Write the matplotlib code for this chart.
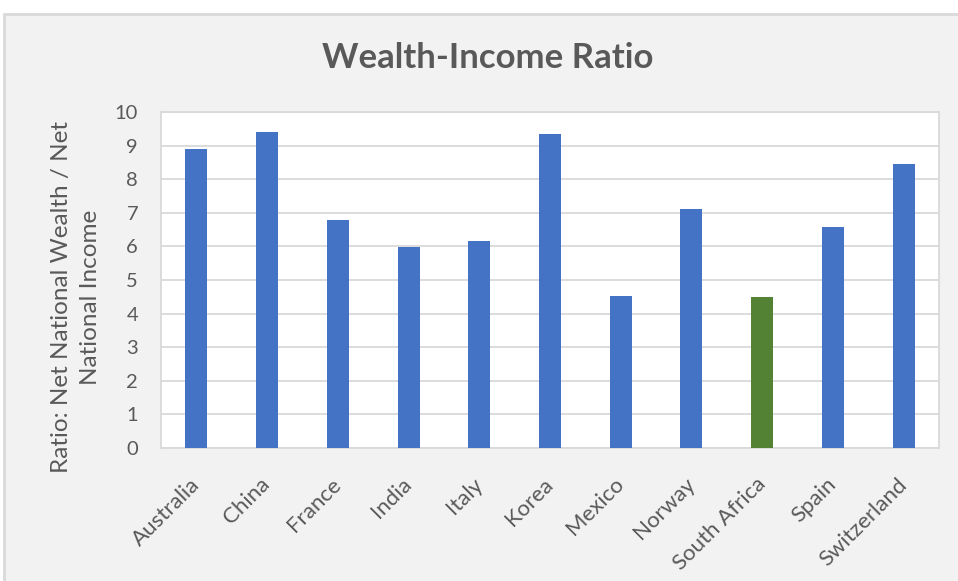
import matplotlib
matplotlib.use("Agg")
import matplotlib.pyplot as plt
from matplotlib.patches import Rectangle
from matplotlib.transforms import ScaledTranslation

# data
countries = ['Australia', 'China', 'France', 'India', 'Italy', 'Korea',
             'Mexico', 'Norway', 'South Africa', 'Spain', 'Switzerland']
ratios = [8.91, 9.41, 6.78, 5.99, 6.15, 9.34, 4.53, 7.10, 4.48, 6.59, 8.44]
highlight = 'South Africa'
y_ticks = [0, 1, 2, 3, 4, 5, 6, 7, 8, 9, 10]

BLUE = '#4472C4'
GREEN = '#548235'
TEXT = '#595959'
GRID = '#D9D9D9'

plt.rcParams['font.family'] = ['Lato', 'DejaVu Sans']

fig = plt.figure(figsize=(9.58, 5.81), dpi=100, facecolor='white')
# chart area background with border (cropped on right/bottom like the source)
fig.patches.append(Rectangle((4 / 958, -0.1), 1.2, (581 - 14) / 581 + 0.1,
                             transform=fig.transFigure, facecolor='#F2F2F2',
                             edgecolor=GRID, linewidth=2, zorder=-10))

ax = fig.add_axes([161 / 958, 1 - 448 / 581, (939 - 161) / 958, (448 - 112) / 581])
ax.set_facecolor('white')

colors = [GREEN if c == highlight else BLUE for c in countries]
x = range(len(countries))
ax.bar(x, ratios, width=0.31, color=colors, zorder=3)

ax.set_xlim(-0.5, len(countries) - 0.5)
ax.set_ylim(0, 10)
ax.set_yticks(y_ticks)
ax.set_xticks(list(x))
ax.set_xticklabels(countries, rotation=45, ha='right', va='center',
                   rotation_mode='anchor', fontsize=16, color=TEXT)
shift = ScaledTranslation(-4 / 72, 1 / 72, fig.dpi_scale_trans)
for lbl in ax.get_xticklabels():
    lbl.set_transform(lbl.get_transform() + shift)
ax.tick_params(axis='y', labelsize=14.5, labelcolor=TEXT, length=0, pad=16.5)
ax.tick_params(axis='x', length=0, pad=24)
ax.grid(axis='y', color=GRID, linewidth=1.3, zorder=0)
for s in ax.spines.values():
    s.set_color(GRID)
    s.set_linewidth(1.3)

fig.text(76 / 958, 1 - 297 / 581, 'Ratio: Net National Wealth / Net\nNational Income',
         rotation=90, ha='center', va='center', multialignment='center',
         fontsize=17.5, color=TEXT, linespacing=1.5)
fig.text(488 / 958, 1 - 58 / 581, 'Wealth-Income Ratio', ha='center', va='center',
         fontsize=25, fontweight='bold', color=TEXT)

fig.savefig('out.png', dpi=100, facecolor=fig.get_facecolor())
